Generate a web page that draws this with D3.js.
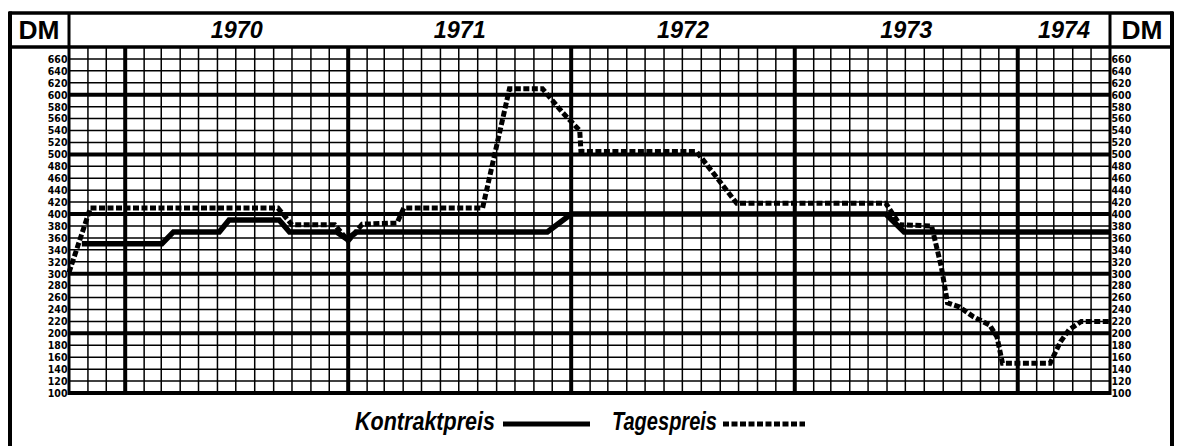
<!DOCTYPE html>
<html><head><meta charset="utf-8">
<script src="https://cdn.jsdelivr.net/npm/d3@7"></script>
<style>
body{margin:0;background:#fff}
svg{display:block}
</style>
</head><body>
<svg id="c" width="1179" height="446"></svg>
<script>
// ---- data ----
const kontraktDates  = ["1969-10-22","1970-03-02","1970-03-21","1970-06-04","1970-06-20","1970-09-10","1970-09-27","1970-12-13","1970-12-30","1971-01-15","1971-11-23","1972-01-01","1973-05-30","1973-06-29","1974-06-01"];
const kontraktValues = [350,350,370,370,390,390,370,370,358,370,370,400,400,370,370];

const tagesDates  = ["1969-10-01","1969-11-05","1970-09-08","1970-10-01","1970-12-10","1971-01-01","1971-01-24","1971-03-22","1971-04-02","1971-08-09","1971-09-22","1971-11-15","1971-12-18","1972-01-15","1972-01-17","1972-07-24","1972-09-28","1973-05-30","1973-06-22","1973-08-13","1973-08-29","1973-09-08","1973-09-28","1973-10-20","1973-11-16","1973-11-28","1973-12-07","1974-02-23","1974-03-12","1974-03-26","1974-04-15","1974-06-01"];
const tagesValues = [302,410,410,382,382,355,383,385,410,410,610,610,570,540,505,505,418,418,382,380,311,251,244,228,214,194,150,150,186,206,220,220];

const yearLabels = ["1970","1971","1972","1973","1974"];
const yTickLabels = [100,120,140,160,180,200,220,240,260,280,300,320,340,360,380,400,420,440,460,480,500,520,540,560,580,600,620,640,660];
const legendLabels = ["Kontraktpreis","Tagespreis"];
const unitLabel = "DM";

// ---- layout ----
const parse = d3.utcParse("%Y-%m-%d");
const x0 = parse("1969-10-01"), x1 = parse("1974-06-01");
const x = d3.scaleUtc().domain([x0, x1]).range([69, 1110]);
const y = d3.scaleLinear().domain([100, 680]).range([393, 47]);

const svg = d3.select("#c");
const g = svg.append("g");

// horizontal grid
const hVals = d3.range(100, 681, 20);
g.selectAll("line.h").data(hVals).join("line")
  .attr("x1", x(x0)).attr("x2", x(x1))
  .attr("y1", d => y(d)).attr("y2", d => y(d))
  .attr("stroke", "#000")
  .attr("stroke-width", d => d % 100 === 0 ? 4 : 1.5);

// vertical grid (months)
const months = d3.utcMonth.range(x0, d3.utcDay.offset(x1, 1));
g.selectAll("line.v").data(months).join("line")
  .attr("x1", d => x(d)).attr("x2", d => x(d))
  .attr("y1", y(680)).attr("y2", y(100) + 2)
  .attr("stroke", "#000")
  .attr("stroke-width", d => (d.getUTCMonth() === 0) ? 4 : 1.5);

// lines
const lineGen = d3.line().x(d => x(d[0])).y(d => y(d[1]));
const kData = kontraktDates.map((d, i) => [parse(d), kontraktValues[i]]);
const tData = tagesDates.map((d, i) => [parse(d), tagesValues[i]]);

g.append("path").datum(kData).attr("d", lineGen)
  .attr("fill", "none").attr("stroke", "#000").attr("stroke-width", 5.5)
  .attr("stroke-linejoin", "miter");

g.append("path").datum(tData).attr("d", lineGen)
  .attr("fill", "none").attr("stroke", "#000").attr("stroke-width", 5)
  .attr("stroke-dasharray", "6 2.5");

// y axes labels
const axisFont = "'Liberation Sans Narrow','DejaVu Sans Condensed','Liberation Sans',sans-serif";
const la = svg.append("g").attr("transform", `translate(${x(x0)},0)`)
  .call(d3.axisLeft(y).tickValues(yTickLabels).tickSize(0).tickPadding(1.5));
const ra = svg.append("g").attr("transform", `translate(${x(x1)},0)`)
  .call(d3.axisRight(y).tickValues(yTickLabels).tickSize(0).tickPadding(1.5));
[la, ra].forEach(a => {
  a.select(".domain").remove();
  a.selectAll("text").attr("font-family", axisFont).attr("font-size", 10.5)
    .attr("font-weight", "bold").attr("fill", "#000");
});

// frame
const frame = svg.append("g").attr("stroke", "#000").attr("fill", "none");
frame.append("line").attr("x1", 9).attr("x2", 1173).attr("y1", 13).attr("y2", 13).attr("stroke-width", 3.5);
frame.append("line").attr("x1", 9).attr("x2", 1173).attr("y1", y(680)).attr("y2", y(680)).attr("stroke-width", 3.5);
frame.append("line").attr("x1", 10).attr("x2", 10).attr("y1", 11.5).attr("y2", 446).attr("stroke-width", 4);
frame.append("line").attr("x1", 1172).attr("x2", 1172).attr("y1", 11.5).attr("y2", 446).attr("stroke-width", 4);
frame.append("line").attr("x1", x(x0)).attr("x2", x(x0)).attr("y1", 13).attr("y2", y(100)+2).attr("stroke-width", 3);
frame.append("line").attr("x1", x(x1)).attr("x2", x(x1)).attr("y1", 13).attr("y2", y(100)+2).attr("stroke-width", 3);

// header labels
[39, 1142].forEach(cx => {
  svg.append("text").text(unitLabel).attr("x", cx).attr("y", 39)
    .attr("text-anchor", "middle").attr("font-family", "'Liberation Sans',Arial,sans-serif")
    .attr("font-weight", "bold").attr("font-size", 25)
    .attr("textLength", 41).attr("lengthAdjust", "spacingAndGlyphs");
});

yearLabels.forEach(yr => {
  const a = d3.max([parse(yr + "-01-01"), x0]);
  const b = d3.min([parse((+yr + 1) + "-01-01"), x1]);
  svg.append("text").text(yr)
    .attr("x", (x(a) + x(b)) / 2).attr("y", 38)
    .attr("text-anchor", "middle")
    .attr("font-family", "'Liberation Sans',Arial,sans-serif")
    .attr("font-weight", "bold").attr("font-style", "italic").attr("font-size", 24)
    .attr("textLength", 52).attr("lengthAdjust", "spacingAndGlyphs");
});

// legend
const lf = "'Liberation Sans Narrow','Liberation Sans',Arial,sans-serif";
svg.append("text").text(legendLabels[0]).attr("x", 355).attr("y", 430)
  .attr("font-family", lf).attr("font-weight", "bold").attr("font-style", "italic")
  .attr("font-size", 25).attr("textLength", 140).attr("lengthAdjust", "spacingAndGlyphs");
svg.append("line").attr("x1", 503).attr("x2", 590).attr("y1", 424).attr("y2", 424)
  .attr("stroke", "#000").attr("stroke-width", 5);
svg.append("text").text(legendLabels[1]).attr("x", 612).attr("y", 430)
  .attr("font-family", lf).attr("font-weight", "bold").attr("font-style", "italic")
  .attr("font-size", 25).attr("textLength", 105).attr("lengthAdjust", "spacingAndGlyphs");
svg.append("line").attr("x1", 723).attr("x2", 805).attr("y1", 424).attr("y2", 424)
  .attr("stroke", "#000").attr("stroke-width", 5).attr("stroke-dasharray", "6 2.5");
</script>
</body></html>
